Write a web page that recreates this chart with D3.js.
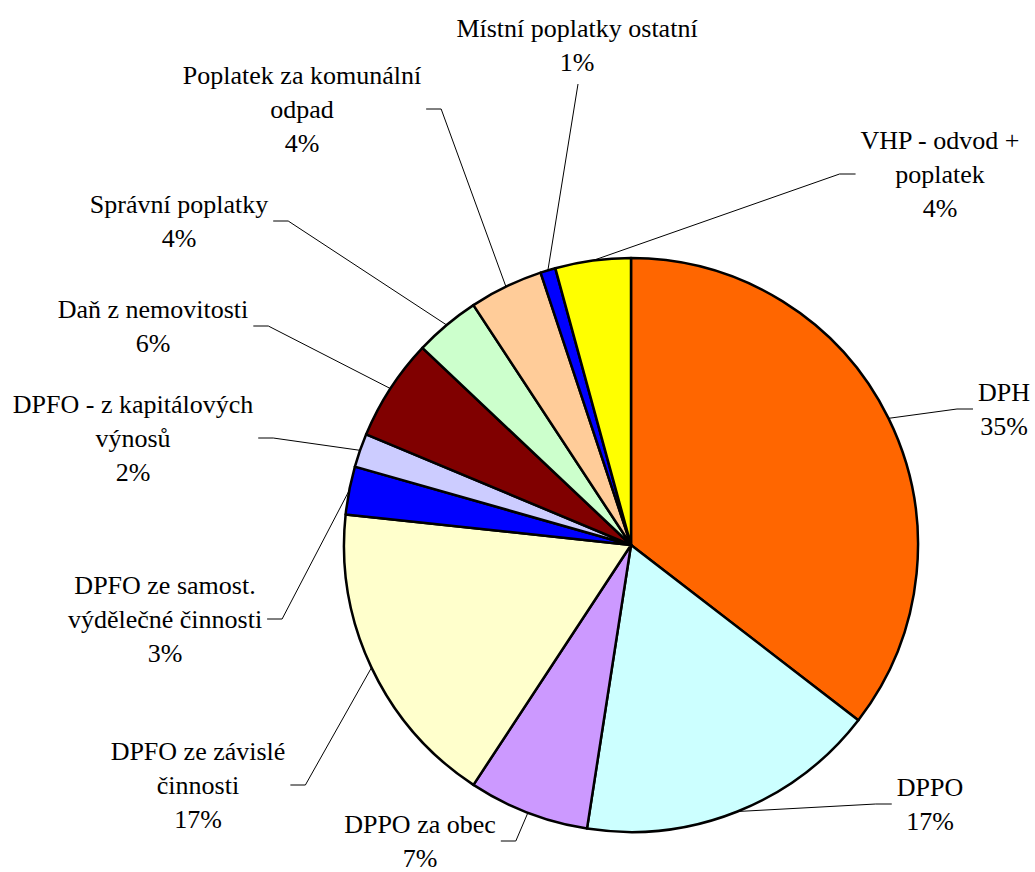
<!DOCTYPE html>
<html>
<head>
<meta charset="utf-8">
<script src="https://cdn.jsdelivr.net/npm/d3@7"></script>
<style>body{margin:0}</style>
</head>
<body>
<svg id="s" width="1035" height="872"></svg>
<script>
// ---- data ----
const categories = [
  "DPH",
  "DPPO",
  "DPPO za obec",
  "DPFO ze závislé činnosti",
  "DPFO ze samost. výdělečné činnosti",
  "DPFO - z kapitálových výnosů",
  "Daň z nemovitosti",
  "Správní poplatky",
  "Poplatek za komunální odpad",
  "Místní poplatky ostatní",
  "VHP - odvod + poplatek"
];
const labelLines = [
  ["DPH"],
  ["DPPO"],
  ["DPPO za obec"],
  ["DPFO ze závislé", "činnosti"],
  ["DPFO ze samost.", "výdělečné činnosti"],
  ["DPFO - z kapitálových", "výnosů"],
  ["Daň z nemovitosti"],
  ["Správní poplatky"],
  ["Poplatek za komunální", "odpad"],
  ["Místní poplatky ostatní"],
  ["VHP - odvod +", "poplatek"]
];
const values = [35.45, 17.0, 6.8, 17.45, 2.7, 1.9, 5.75, 3.7, 4.15, 0.85, 4.25];
const colors = ["#FF6600", "#CCFFFF", "#CC99FF", "#FFFFCC", "#0000FF", "#CCCCFF",
                "#800000", "#CCFFCC", "#FFCC99", "#0000FF", "#FFFF00"];

// ---- layout (label block centre x / centre y, side of the pie) ----
const labelLayout = [
  { x: 1004, y: 409, side: "right" },
  { x: 930,  y: 804, side: "right" },
  { x: 420,  y: 841, side: "left" },
  { x: 198,  y: 785, side: "left" },
  { x: 165,  y: 619, side: "left" },
  { x: 133,  y: 438, side: "left" },
  { x: 153,  y: 326, side: "left" },
  { x: 179,  y: 221, side: "left" },
  { x: 302,  y: 109, side: "left" },
  { x: 577,  y: 45,  side: "top" },
  { x: 940,  y: 174, side: "right" }
];

const cx = 631, cy = 545, R = 287;
const lineH = 34;
const FONT = '"Liberation Serif"';

const svg = d3.select("#s");
const total = d3.sum(values);
const fmt = v => Math.round(v / total * 100) + "%";

const pie = d3.pie().sort(null).startAngle(0).endAngle(2 * Math.PI).value(d => d);
const arcs = pie(values);
const arc = d3.arc().innerRadius(0).outerRadius(R);

const g = svg.append("g").attr("transform", `translate(${cx},${cy})`);
g.selectAll("path")
  .data(arcs)
  .join("path")
  .attr("d", arc)
  .attr("fill", (d, i) => colors[i])
  .attr("stroke", "#000")
  .attr("stroke-width", 2.5)
  .attr("stroke-linejoin", "round");

arcs.forEach((a, i) => {
  const L = labelLayout[i];
  const lines = labelLines[i].concat([fmt(values[i])]);
  const n = lines.length;
  let minX = Infinity, maxX = -Infinity, maxY = -Infinity;
  lines.forEach((s, k) => {
    const t = svg.append("text")
      .attr("x", L.x)
      .attr("y", L.y + (k - (n - 1) / 2) * lineH + 9)
      .attr("text-anchor", "middle")
      .attr("font-size", 26)
      .attr("font-family", FONT)
      .style("font-family", FONT, "important")
      .style("font-size", "26px", "important")
      .text(s);
    const w = t.node().getComputedTextLength();
    minX = Math.min(minX, L.x - w / 2);
    maxX = Math.max(maxX, L.x + w / 2);
    maxY = Math.max(maxY, L.y + (k - (n - 1) / 2) * lineH + 14);
  });
  const mid = (a.startAngle + a.endAngle) / 2;
  const px = cx + R * Math.sin(mid), py = cy - R * Math.cos(mid);
  let pts;
  if (L.side === "left") {
    const x0 = maxX + 5;
    pts = [[x0, L.y], [x0 + 15, L.y], [px, py]];
  } else if (L.side === "right") {
    const x0 = minX - 5;
    pts = [[x0, L.y], [x0 - 16, L.y], [px, py]];
  } else {
    pts = [[L.x + 1, maxY + 8], [px, py]];
  }
  svg.append("path")
    .attr("d", d3.line()(pts))
    .attr("fill", "none")
    .attr("stroke", "#000")
    .attr("stroke-width", 1);
});
</script>
</body>
</html>
